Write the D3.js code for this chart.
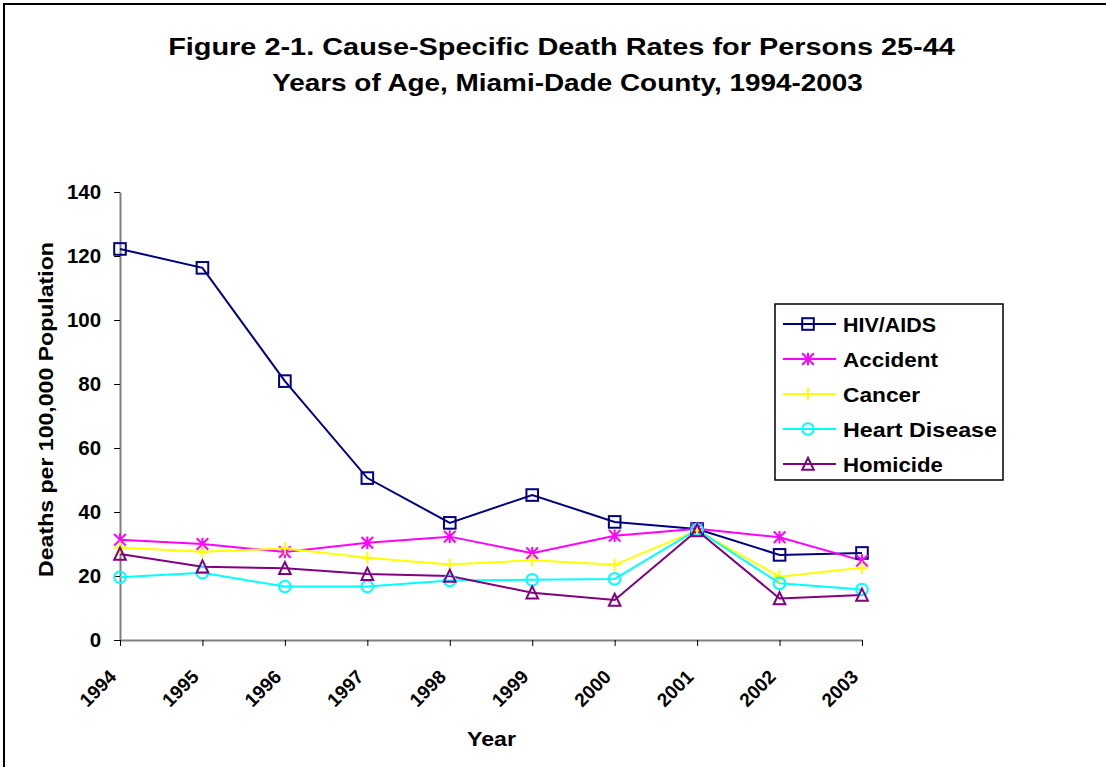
<!DOCTYPE html>
<html><head><meta charset="utf-8">
<script src="https://cdn.jsdelivr.net/npm/d3@7/dist/d3.min.js"></script>
<style>body{margin:0;background:#fff;font-family:"Liberation Sans",Arial,sans-serif;}</style>
</head><body><svg id="c" width="1106" height="767"></svg>
<script>
const years = ["1994","1995","1996","1997","1998","1999","2000","2001","2002","2003"];
const hiv = [122.2,116.3,80.9,50.6,36.6,45.3,36.9,34.7,26.6,27.2];
const accident = [31.3,30.0,27.5,30.4,32.3,27.1,32.6,34.8,32.1,24.8];
const cancer = [28.9,27.6,28.6,25.7,23.6,24.9,23.5,34.3,19.8,22.6];
const heart = [19.6,21.0,16.7,16.7,18.6,18.8,19.1,34.5,17.7,15.8];
const homicide = [26.9,22.9,22.4,20.6,20.0,14.8,12.5,34.2,13.0,14.1];
const seriesNames = ["HIV/AIDS","Accident","Cancer","Heart Disease","Homicide"];
const yTicks = [0,20,40,60,80,100,120,140];

const legendWidths = [93,95,77,154,100];
const series = [
  {name:seriesNames[0], values:hiv, color:"#000080", marker:"square"},
  {name:seriesNames[1], values:accident, color:"#FF00FF", marker:"star"},
  {name:seriesNames[2], values:cancer, color:"#FFFF00", marker:"plus"},
  {name:seriesNames[3], values:heart, color:"#00FFFF", marker:"circle"},
  {name:seriesNames[4], values:homicide, color:"#800080", marker:"triangle"}
];

const svg = d3.select("#c");
svg.append("rect").attr("x",4).attr("y",4).attr("width",1110).attr("height",780)
  .attr("fill","#fff").attr("stroke","#000").attr("stroke-width",2);

// text stretched horizontally (along its direction) to a target width
function wideText(parent, x, y, rot, str, size, width, anchor){
  const g = parent.append("g");
  const t = g.append("text").attr("font-weight","bold").attr("font-size",size)
    .attr("font-family","Liberation Sans, Arial, sans-serif")
    .attr("text-anchor",anchor).attr("fill","#000").text(str);
  const nat = t.node().getComputedTextLength();
  const sx = width / nat;
  g.attr("transform",`translate(${x},${y}) rotate(${rot}) scale(${sx},1)`);
  return g;
}

wideText(svg, 561.5, 55, 0, "Figure 2-1. Cause-Specific Death Rates for Persons 25-44", 24.5, 787, "middle");
wideText(svg, 567.5, 91, 0, "Years of Age, Miami-Dade County, 1994-2003", 24.5, 591, "middle");

const x = d3.scalePoint().domain(years).range([120,862]);
const y = d3.scaleLinear().domain([0,140]).range([640,192]);

const yAxis = svg.append("g").attr("transform","translate(120,0)")
  .call(d3.axisLeft(y).tickValues(yTicks).tickSize(6).tickSizeOuter(0).tickPadding(12));
yAxis.select(".domain").attr("stroke","#808080").attr("stroke-width",2);
yAxis.selectAll(".tick line").attr("stroke","#000");
yAxis.selectAll("text").attr("font-size",19.5).attr("font-weight","bold")
  .attr("font-family","Liberation Sans, Arial, sans-serif").attr("fill","#000")
  .attr("transform","scale(1.05,1)");

const xAxis = svg.append("g").attr("transform","translate(0,640)")
  .call(d3.axisBottom(x).tickSize(6).tickSizeOuter(0));
xAxis.select(".domain").attr("stroke","#808080").attr("stroke-width",2);
xAxis.selectAll(".tick line").attr("stroke","#000");
xAxis.selectAll("text").attr("font-size",19).attr("font-weight","bold")
  .attr("font-family","Liberation Sans, Arial, sans-serif").attr("fill","#000")
  .attr("text-anchor","end").attr("dy",0).attr("y",0)
  .attr("transform","translate(-3,38) rotate(-45)");

wideText(svg, 53, 409.5, -90, "Deaths per 100,000 Population", 19.5, 335, "middle");
wideText(svg, 491.5, 746, 0, "Year", 19.5, 49, "middle");

function drawMarker(g, type, color){
  const s = 5.8;
  if(type==="square") g.append("rect").attr("x",-s).attr("y",-s).attr("width",2*s).attr("height",2*s)
      .attr("fill","none").attr("stroke",color).attr("stroke-width",2);
  else if(type==="circle") g.append("circle").attr("r",s).attr("fill","none").attr("stroke",color).attr("stroke-width",2);
  else if(type==="triangle") g.append("path").attr("d",`M0,${-s-0.5}L${s},${s}L${-s},${s}Z`)
      .attr("fill","none").attr("stroke",color).attr("stroke-width",2);
  else if(type==="plus") g.append("path").attr("d",`M0,${-s-0.5}V${s+0.5}M${-s-0.5},0H${s+0.5}`)
      .attr("stroke",color).attr("stroke-width",2);
  else if(type==="star") g.append("path").attr("d",`M0,${-s-0.5}V${s+0.5}M${-s},${-s}L${s},${s}M${s},${-s}L${-s},${s}`)
      .attr("stroke",color).attr("stroke-width",2);
}

const line = d3.line().x((d,i)=>x(years[i])).y(d=>y(d));
series.forEach(s=>{
  svg.append("path").datum(s.values).attr("d",line).attr("fill","none")
    .attr("stroke",s.color).attr("stroke-width",2);
});
series.forEach(s=>{
  s.values.forEach((v,i)=>{
    const g = svg.append("g").attr("transform",`translate(${x(years[i])},${y(v)})`);
    drawMarker(g, s.marker, s.color);
  });
});

// legend
const lg = svg.append("g");
lg.append("rect").attr("x",775).attr("y",304).attr("width",228).attr("height",176)
  .attr("fill","#fff").attr("stroke","#000").attr("stroke-width",1.5);
series.forEach((s,i)=>{
  const yy = 324 + i*35;
  lg.append("line").attr("x1",783).attr("x2",836).attr("y1",yy).attr("y2",yy)
    .attr("stroke",s.color).attr("stroke-width",2);
  const g = lg.append("g").attr("transform",`translate(808,${yy})`);
  drawMarker(g, s.marker, s.color);
  wideText(lg, 843, yy+7.5, 0, s.name, 19.5, legendWidths[i], "start");
});
</script></body></html>
